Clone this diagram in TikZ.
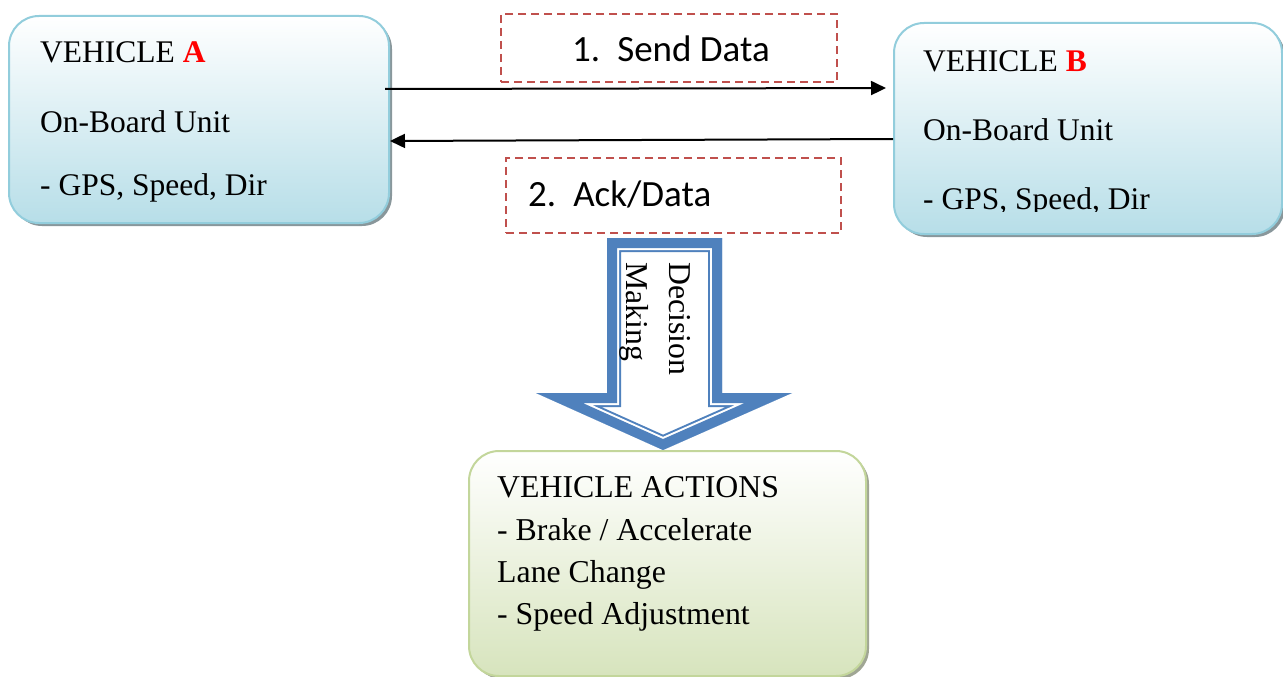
\documentclass[tikz,border=0pt]{standalone}
\usepackage{fontspec}
\setmainfont{Liberation Serif}
\newfontfamily\labelfont{Carlito}
\usetikzlibrary{shadows,arrows.meta}
\definecolor{vbord}{HTML}{92CDDC}
\definecolor{vfill}{HTML}{B7DEE8}
\definecolor{gbord}{HTML}{C3D69B}
\definecolor{gfill}{HTML}{D7E4BD}
\definecolor{dashred}{HTML}{C0504D}
\definecolor{arrblue}{HTML}{4F81BD}
% outline of the "Decision Making" block arrow
\newcommand\decisionshape{(607,238) -- (722,238) -- (722,393) -- (792,393) -- (663,450) -- (536,393) -- (607,393) -- cycle}
\begin{document}
\begin{tikzpicture}[x=1pt,y=-1pt,
  vehiclebox/.style={draw=vbord, line width=2pt, rounded corners=30pt,
    top color=white, bottom color=vfill, anchor=north west, inner sep=0pt,
    drop shadow={shadow xshift=3pt, shadow yshift=-3pt, fill=black!60!vbord, opacity=0.6}},
  actionbox/.style={draw=gbord, line width=2pt, rounded corners=30pt,
    top color=white, bottom color=gfill, anchor=north west, inner sep=0pt,
    drop shadow={shadow xshift=3pt, shadow yshift=-3pt, fill=black!50!gbord, opacity=0.6}},
  msgbox/.style={draw=dashred, line width=2pt, dash pattern=on 8pt off 5pt,
    anchor=north west, inner sep=0pt},
  txt/.style={anchor=base west, inner sep=0pt, font=\fontsize{31.5}{36}\selectfont},
  acttxt/.style={anchor=base west, inner sep=0pt, font=\fontsize{31.8}{36}\selectfont},
  msgtxt/.style={anchor=base west, inner sep=0pt, font=\labelfont\fontsize{37}{40}\selectfont},
  conn/.style={line width=2pt, -{Triangle[length=15pt,width=14pt]}}
]
\useasboundingbox (0,0) rectangle (1283,677);

% vehicle A
\node[vehiclebox, minimum width=380pt, minimum height=207pt] (A) at (8,15) {};
\node[txt] (a1) at (40,63) {VEHICLE \textcolor{red}{\textbf{A}}};
\node[txt] (a2) at (40,132) {On-Board Unit};
\node[txt] (a3) at (40,195) {- GPS, Speed, Dir};

% vehicle B
\node[vehiclebox, minimum width=388pt, minimum height=211pt] (B) at (893,22) {};
\node[txt] (b1) at (923,72) {VEHICLE \textcolor{red}{\textbf{B}}};
\node[txt] (b2) at (923,140) {On-Board Unit};
\begin{scope}
  \clip (890,150) rectangle (1283,211);
  \node[txt] (b3) at (923,209) {- GPS, Speed, Dir};
\end{scope}

% messages
\node[msgbox, minimum width=336pt, minimum height=68pt] (send) at (500,13) {};
\node[msgtxt] (sendtxt) at (572,62) {1.\hspace{17pt}Send Data};
\node[msgbox, minimum width=335pt, minimum height=75pt] (ack) at (505,157) {};
\node[msgtxt] (acktxt) at (528,206) {2.\hspace{17pt}Ack/Data};

\draw[conn, shorten >=7pt] ([xshift=-5pt]A.east |- 0,89) -- (B.west |- 0,88);
\draw[conn] (B.west |- 0,139) -- (A.east |- 0,141);

% decision block arrow with a thick-thin outline
\begin{scope}
  \clip \decisionshape;
  \fill[white] \decisionshape;
  \draw[arrblue, line width=28pt, line join=miter] \decisionshape;
  \draw[white, line width=24pt, line join=miter] \decisionshape;
  \draw[arrblue, line width=20pt, line join=miter] \decisionshape;
\end{scope}
\node[acttxt, rotate=-90] (dec1) at (669,262) {Decision};
\node[acttxt, rotate=-90] (dec2) at (626,262) {Making};

% vehicle actions
\node[actionbox, minimum width=397pt, minimum height=225pt] (act) at (468,450) {};
\node[acttxt] (c1) at (497,497) {VEHICLE ACTIONS};
\node[acttxt] (c2) at (497,540) {- Brake / Accelerate};
\node[acttxt] (c3) at (497,582) {Lane Change};
\node[acttxt] (c4) at (497,624) {- Speed Adjustment};
\end{tikzpicture}
\end{document}
